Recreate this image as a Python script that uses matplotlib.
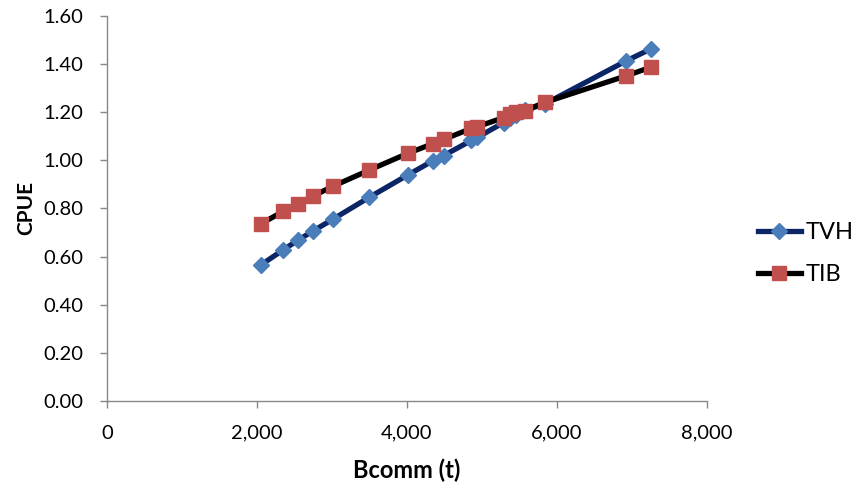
import matplotlib
matplotlib.use("Agg")
import matplotlib.pyplot as plt
from matplotlib.ticker import FuncFormatter, MultipleLocator

# commercial biomass (t) and CPUE for both scenarios
bcomm = [2050, 2350, 2550, 2750, 3010, 3500, 4010, 4350, 4490, 4860,
         4940, 5290, 5380, 5450, 5570, 5840, 6920, 7250]
cpue_tvh = [0.565, 0.628, 0.669, 0.707, 0.755, 0.847, 0.939, 0.999, 1.020, 1.083,
            1.096, 1.157, 1.175, 1.187, 1.208, 1.235, 1.413, 1.463]
cpue_tib = [0.736, 0.788, 0.820, 0.852, 0.892, 0.960, 1.029, 1.070, 1.087, 1.133,
            1.140, 1.178, 1.191, 1.201, 1.207, 1.241, 1.351, 1.387]

plt.rcParams['font.family'] = ['Lato', 'DejaVu Sans']

fig = plt.figure(figsize=(8.64, 4.83), dpi=100)
ax = fig.add_axes([0.1238, 0.1698, 0.6945, 0.7971])

ax.plot(bcomm, cpue_tvh, color="#0b2566", lw=3.8, marker="D", ms=8.5,
        mfc="#4a7ebb", mec="#4a7ebb", label="TVH", zorder=3)
ax.plot(bcomm, cpue_tib, color="black", lw=3.8, marker="s", ms=10,
        mfc="#c0504d", mec="#c0504d", label="TIB", zorder=4)

ax.set_xlim(0, 8000)
ax.set_ylim(0, 1.6)
ax.xaxis.set_major_locator(MultipleLocator(2000))
ax.yaxis.set_major_locator(MultipleLocator(0.2))
ax.xaxis.set_major_formatter(FuncFormatter(lambda v, p: f"{v:,.0f}"))
ax.yaxis.set_major_formatter(FuncFormatter(lambda v, p: f"{v:.2f}"))

for s in ("top", "right"):
    ax.spines[s].set_visible(False)
for s in ("left", "bottom"):
    ax.spines[s].set_color("#888888")
    ax.spines[s].set_linewidth(1.0)
ax.tick_params(axis="both", colors="#888888", length=5, width=1.0,
               labelsize=14.5, labelcolor="black", pad=12)

ax.set_xlabel("Bcomm (t)", fontsize=17, fontweight="bold", labelpad=12)
ax.set_ylabel("CPUE", fontsize=15, fontweight="bold", labelpad=5)

fig.legend(loc="center left", bbox_to_anchor=(0.853, 0.475), frameon=False,
           fontsize=17, handlelength=1.8, handletextpad=0.2, labelspacing=0.9)

fig.savefig("out.png", dpi=100)
